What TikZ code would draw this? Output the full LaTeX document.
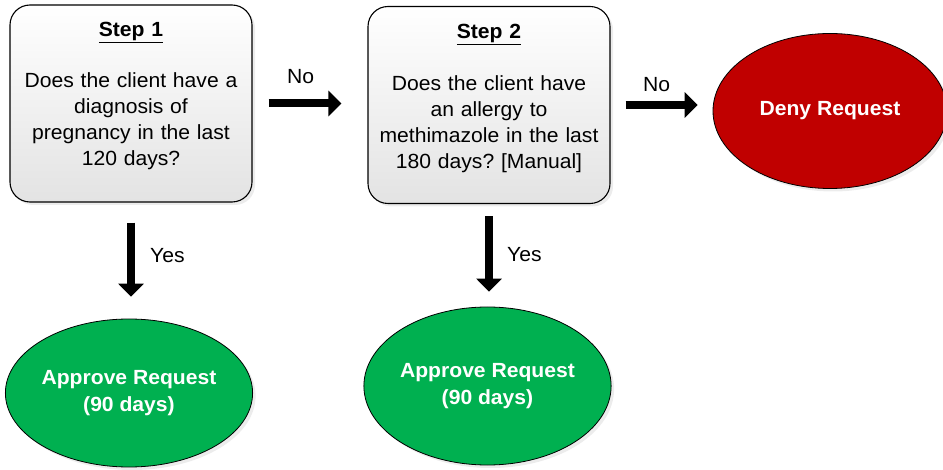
\documentclass[tikz,border=0pt]{standalone}
\usepackage{fontspec}
\setmainfont{Liberation Sans}[FakeStretch=1.03]
\usetikzlibrary{arrows.meta,shapes.geometric,shadows}
\definecolor{denyred}{HTML}{C00000}
\definecolor{okgreen}{HTML}{00B050}
\frenchspacing
\begin{document}
\begin{tikzpicture}[x=1pt,y=-1pt,
	> = {Triangle[length=13pt,width=25pt]}, % block arrow head
	font=\fontsize{20.5}{26}\selectfont,
	every node/.style={inner sep=0pt},
	stepbox/.style={draw=black,line width=1.1pt,rounded corners=20pt,
		top color=white,bottom color=black!11,
		minimum width=242pt,minimum height=197pt,
		text width=236pt,align=center,text height=32pt,text depth=165pt,
		drop shadow={opacity=0.15,shadow xshift=3pt,shadow yshift=-3pt}},
	endnode/.style={ellipse,draw=black,line width=0.8pt,text=white,
		font=\fontsize{20.5}{27}\selectfont\bfseries,align=center,
		drop shadow={opacity=0.15,shadow xshift=3pt,shadow yshift=-3pt}},
	blockarrow/.style={->,line width=8pt}]
	\useasboundingbox (0,0) rectangle (943,470);

	\node[stepbox] (s1) at (131,103.5) {\underline{\textbf{Step 1}}\\[25pt]
		Does the client have a\\ diagnosis of\\ pregnancy in the last\\ 120 days?};
	\node[stepbox] (s2) at (489,105) {\underline{\textbf{Step 2}}\\[26pt]
		Does the client have\\ an allergy to\\ methimazole in the last\\ 180 days? [Manual]};

	\node[endnode,fill=denyred,minimum width=234pt,minimum height=155pt] (deny) at (830,111) {Deny Request};
	\node[endnode,fill=okgreen,minimum width=242pt,minimum height=148pt] (ok1) at (129,393) {Approve Request\\(90 days)};
	\node[endnode,fill=okgreen,minimum width=241pt,minimum height=158pt] (ok2) at (487.5,386) {Approve Request\\(90 days)};

	\draw[blockarrow,shorten <=16pt,shorten >=26pt] (s1.east) -- (s1.east -| s2.west);
	\draw[blockarrow,shorten <=15pt,shorten >=15pt] (s2.east) -- (s2.east -| deny.west);
	\draw[blockarrow,shorten <=20pt,shorten >=22pt] (s1.south) -- (s1.south |- ok1.north);
	\draw[blockarrow,shorten <=12pt,shorten >=15pt] (s2.south) -- (s2.south |- ok2.north);

	\node[anchor=base west] (no1) at (287,84) {No};
	\node[anchor=base west] (no2) at (643,92) {No};
	\node[anchor=base west] (yes1) at (150,263) {Yes};
	\node[anchor=base west] (yes2) at (507,262) {Yes};

\end{tikzpicture}
\end{document}
